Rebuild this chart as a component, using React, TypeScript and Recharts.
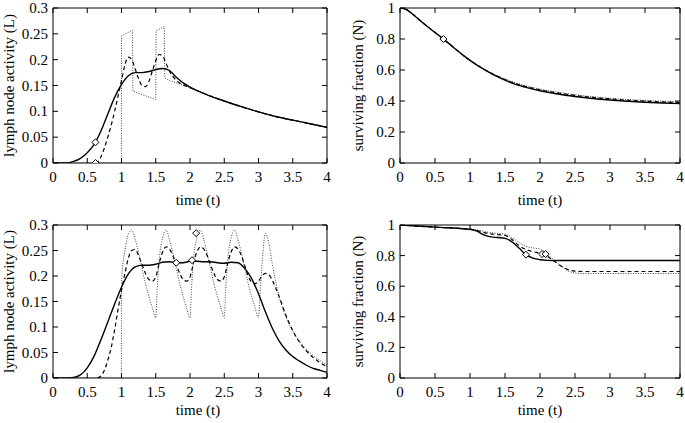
import React from 'react';
import { ComposedChart, Line, Scatter, XAxis, YAxis, ReferenceLine } from 'recharts';

type Pt = [number, number];

const TIME_TICKS = [0, 0.5, 1, 1.5, 2, 2.5, 3, 3.5, 4];
const L_TICKS = [0, 0.05, 0.1, 0.15, 0.2, 0.25, 0.3];
const N_TICKS = [0, 0.2, 0.4, 0.6, 0.8, 1];

// top left: lymph node activity, single dose
const L1_SOLID: Pt[] = [
  [0, 0], [0.2, 0], [0.3, 0.003], [0.4, 0.009], [0.5, 0.02], [0.6, 0.036], [0.7, 0.062],
  [0.8, 0.095], [0.9, 0.127], [1.0, 0.152], [1.1, 0.169], [1.2, 0.175], [1.3, 0.175],
  [1.4, 0.177], [1.5, 0.181], [1.6, 0.183], [1.7, 0.179], [1.8, 0.166], [1.9, 0.155],
  [2.0, 0.147], [2.25, 0.132], [2.5, 0.12], [2.75, 0.109], [3.0, 0.099], [3.25, 0.09],
  [3.5, 0.083], [3.75, 0.076], [4.0, 0.069],
];
const L1_DASHED: Pt[] = [
  [0.62, 0], [0.66, 0.003], [0.7, 0.012], [0.8, 0.05], [0.9, 0.1], [0.95, 0.13], [1.0, 0.16],
  [1.05, 0.19], [1.1, 0.205], [1.15, 0.2], [1.2, 0.182], [1.25, 0.163], [1.3, 0.15],
  [1.35, 0.148], [1.4, 0.158], [1.45, 0.178], [1.5, 0.198], [1.55, 0.21], [1.6, 0.207],
  [1.65, 0.193], [1.7, 0.178], [1.8, 0.16], [1.9, 0.151], [2.0, 0.146], [2.25, 0.132],
  [2.5, 0.12], [2.75, 0.109], [3.0, 0.099], [3.25, 0.09], [3.5, 0.083], [3.75, 0.076], [4.0, 0.069],
];
const L1_DOTTED: Pt[] = [
  [0, 0], [0.999, 0], [1.0, 0.246], [1.16, 0.257], [1.166, 0.139], [1.5, 0.123], [1.506, 0.256],
  [1.625, 0.264], [1.631, 0.165], [1.7, 0.16], [1.8, 0.155], [1.9, 0.15], [2.0, 0.146],
  [2.25, 0.132], [2.5, 0.12], [2.75, 0.109], [3.0, 0.099], [3.25, 0.09], [3.5, 0.083],
  [3.75, 0.076], [4.0, 0.069],
];
const L1_MARKS: Pt[] = [[0.62, 0.04], [0.62, 0]];

// top right: surviving fraction, single dose
const N1_SOLID: Pt[] = [
  [0, 1], [0.05, 0.997], [0.1, 0.988], [0.2, 0.953], [0.3, 0.914], [0.4, 0.877], [0.5, 0.842],
  [0.6, 0.807], [0.7, 0.77], [0.8, 0.732], [0.9, 0.696], [1.0, 0.662], [1.1, 0.632],
  [1.2, 0.604], [1.3, 0.578], [1.4, 0.555], [1.5, 0.534], [1.6, 0.515], [1.8, 0.488],
  [2.0, 0.466], [2.25, 0.445], [2.5, 0.429], [2.75, 0.416], [3.0, 0.406], [3.25, 0.398],
  [3.5, 0.392], [3.75, 0.387], [4.0, 0.383],
];
const N1_DASHED: Pt[] = [
  [0, 1], [0.05, 0.997], [0.1, 0.988], [0.2, 0.953], [0.3, 0.914], [0.4, 0.877], [0.5, 0.842],
  [0.6, 0.807], [0.7, 0.77], [0.8, 0.732], [0.9, 0.696], [1.0, 0.662], [1.1, 0.632],
  [1.2, 0.605], [1.3, 0.58], [1.4, 0.558], [1.5, 0.538], [1.6, 0.52], [1.8, 0.493],
  [2.0, 0.472], [2.25, 0.452], [2.5, 0.436], [2.75, 0.423], [3.0, 0.413], [3.25, 0.405],
  [3.5, 0.399], [3.75, 0.394], [4.0, 0.39],
];
const N1_DOTTED: Pt[] = [
  [0, 1], [0.05, 0.997], [0.1, 0.988], [0.2, 0.953], [0.3, 0.914], [0.4, 0.877], [0.5, 0.842],
  [0.6, 0.807], [0.7, 0.77], [0.8, 0.732], [0.9, 0.696], [1.0, 0.662], [1.1, 0.633],
  [1.2, 0.606], [1.3, 0.582], [1.4, 0.561], [1.5, 0.542], [1.6, 0.525], [1.8, 0.498],
  [2.0, 0.477], [2.25, 0.457], [2.5, 0.441], [2.75, 0.428], [3.0, 0.418], [3.25, 0.41],
  [3.5, 0.404], [3.75, 0.399], [4.0, 0.395],
];
const N1_MARKS: Pt[] = [[0.62, 0.8]];

// bottom left: lymph node activity, repeated doses
const L2_SOLID: Pt[] = [
  [0, 0], [0.25, 0], [0.3, 0.001], [0.4, 0.006], [0.5, 0.02], [0.6, 0.043], [0.7, 0.075],
  [0.8, 0.11], [0.9, 0.145], [1.0, 0.178], [1.1, 0.204], [1.2, 0.218], [1.3, 0.221],
  [1.4, 0.221], [1.5, 0.223], [1.6, 0.227], [1.7, 0.228], [1.8, 0.226], [1.9, 0.226],
  [2.0, 0.229], [2.1, 0.229], [2.2, 0.228], [2.3, 0.228], [2.4, 0.226], [2.5, 0.225],
  [2.6, 0.227], [2.7, 0.226], [2.8, 0.215], [2.9, 0.195], [3.0, 0.165], [3.1, 0.13],
  [3.2, 0.098], [3.3, 0.073], [3.4, 0.055], [3.5, 0.042], [3.6, 0.033], [3.7, 0.025],
  [3.8, 0.019], [3.9, 0.015], [4.0, 0.011],
];
const L2_DASHED: Pt[] = [
  [0.65, 0], [0.7, 0.004], [0.75, 0.015], [0.8, 0.035], [0.85, 0.06], [0.9, 0.095],
  [0.95, 0.135], [1.0, 0.172], [1.05, 0.205], [1.1, 0.235], [1.15, 0.25], [1.2, 0.252],
  [1.25, 0.24], [1.3, 0.222], [1.35, 0.205], [1.4, 0.193], [1.45, 0.19], [1.5, 0.198],
  [1.55, 0.225], [1.6, 0.247], [1.65, 0.257], [1.7, 0.253], [1.75, 0.24], [1.8, 0.222],
  [1.85, 0.205], [1.9, 0.193], [1.95, 0.19], [2.0, 0.198], [2.05, 0.225], [2.1, 0.247],
  [2.15, 0.257], [2.2, 0.253], [2.25, 0.24], [2.3, 0.222], [2.35, 0.205], [2.4, 0.193],
  [2.45, 0.19], [2.5, 0.198], [2.55, 0.225], [2.6, 0.247], [2.65, 0.257], [2.7, 0.253],
  [2.75, 0.24], [2.8, 0.22], [2.85, 0.2], [2.9, 0.188], [2.95, 0.185], [3.0, 0.19],
  [3.05, 0.2], [3.1, 0.205], [3.15, 0.203], [3.2, 0.192], [3.3, 0.16], [3.4, 0.123],
  [3.5, 0.093], [3.6, 0.07], [3.7, 0.053], [3.8, 0.04], [3.9, 0.03], [4.0, 0.022],
];
const L2_DOTTED: Pt[] = [
  [0, 0], [0.998, 0], [1.0, 0.19], [1.05, 0.25], [1.1, 0.282], [1.15, 0.29], [1.2, 0.272],
  [1.25, 0.245], [1.3, 0.215], [1.35, 0.185], [1.4, 0.16], [1.45, 0.138], [1.5, 0.118],
  [1.52, 0.17], [1.55, 0.23], [1.6, 0.275], [1.65, 0.29], [1.7, 0.272], [1.75, 0.245],
  [1.8, 0.215], [1.85, 0.185], [1.9, 0.16], [1.95, 0.138], [2.0, 0.118], [2.02, 0.17],
  [2.05, 0.23], [2.1, 0.275], [2.15, 0.29], [2.2, 0.272], [2.25, 0.245], [2.3, 0.215],
  [2.35, 0.185], [2.4, 0.16], [2.45, 0.138], [2.5, 0.118], [2.52, 0.17], [2.55, 0.23],
  [2.6, 0.275], [2.65, 0.29], [2.7, 0.272], [2.75, 0.245], [2.8, 0.215], [2.85, 0.185],
  [2.9, 0.16], [2.95, 0.138], [3.0, 0.118], [3.02, 0.16], [3.05, 0.22], [3.1, 0.283],
  [3.15, 0.265], [3.2, 0.225], [3.3, 0.16], [3.4, 0.12], [3.5, 0.092], [3.6, 0.072],
  [3.7, 0.056], [3.8, 0.044], [3.9, 0.034], [4.0, 0.026],
];
const L2_MARKS: Pt[] = [[1.8, 0.226], [2.03, 0.231], [2.09, 0.284]];

// bottom right: surviving fraction, repeated doses
const N2_SOLID: Pt[] = [
  [0, 1], [0.5, 0.986], [1.0, 0.972], [1.1, 0.96], [1.2, 0.935], [1.3, 0.922], [1.4, 0.918],
  [1.5, 0.913], [1.6, 0.89], [1.7, 0.85], [1.8, 0.806], [1.9, 0.783], [2.0, 0.773],
  [2.1, 0.769], [2.2, 0.768], [3.0, 0.768], [4.0, 0.768],
];
const N2_DASHED: Pt[] = [
  [0, 1], [0.5, 0.986], [1.0, 0.972], [1.1, 0.965], [1.2, 0.95], [1.3, 0.942], [1.4, 0.937],
  [1.5, 0.932], [1.6, 0.905], [1.7, 0.865], [1.8, 0.84], [1.9, 0.826], [2.0, 0.815],
  [2.05, 0.808], [2.1, 0.797], [2.2, 0.765], [2.3, 0.732], [2.4, 0.708], [2.5, 0.698],
  [2.6, 0.696], [3.0, 0.696], [4.0, 0.696],
];
const N2_DOTTED: Pt[] = [
  [0, 1], [0.5, 0.986], [1.0, 0.972], [1.1, 0.968], [1.2, 0.958], [1.3, 0.95], [1.4, 0.945],
  [1.5, 0.94], [1.6, 0.918], [1.7, 0.885], [1.8, 0.86], [1.9, 0.85], [2.0, 0.843],
  [2.05, 0.83], [2.1, 0.81], [2.2, 0.77], [2.3, 0.732], [2.4, 0.7], [2.5, 0.686],
  [2.6, 0.683], [3.0, 0.683], [4.0, 0.683],
];
const N2_MARKS: Pt[] = [[1.8, 0.806], [2.03, 0.81], [2.08, 0.81]];

const FONT = '"Liberation Serif", "Times New Roman", Times, serif';
const rows = (pts: Pt[]) => pts.map(([t, y]) => ({ t, y }));

const Diamond = (props: any) => {
  const { cx, cy } = props;
  const r = 3.5;
  return (
    <polygon
      points={`${cx},${cy - r} ${cx + r},${cy} ${cx},${cy + r} ${cx - r},${cy}`}
      fill="#fff"
      stroke="#000"
      strokeWidth={1}
    />
  );
};

interface PanelProps {
  left: number;
  top: number;
  width: number;
  height: number;
  marginTop: number;
  marginRight: number;
  yWidth: number;
  xHeight: number;
  yMax: number;
  yTicks: number[];
  yLabel: string;
  yLabelX: number;
  xLabelShift: number;
  xLabelDrop: number;
  solid: Pt[];
  dashed: Pt[];
  dotted: Pt[];
  marks: Pt[];
  dottedCurve: 'linear' | 'monotone';
}

function Panel(p: PanelProps) {
  const plotW = p.width - p.marginRight - p.yWidth;
  const plotH = p.height - p.marginTop - p.xHeight;

  const XTick = ({ x, y, payload }: any) => (
    <g>
      <line x1={x} x2={x} y1={y} y2={y - 5} stroke="#000" />
      <line x1={x} x2={x} y1={y - plotH} y2={y - plotH + 5} stroke="#000" />
      <text x={x} y={y + 19} textAnchor="middle" fontSize={15} fontFamily={FONT} fill="#000">
        {payload.value}
      </text>
    </g>
  );

  const YTick = ({ x, y, payload }: any) => (
    <g>
      <line x1={x} x2={x + 5} y1={y} y2={y} stroke="#000" />
      <line x1={x + plotW} x2={x + plotW - 5} y1={y} y2={y} stroke="#000" />
      <text x={x - 5} y={y + 5} textAnchor="end" fontSize={15} fontFamily={FONT} fill="#000">
        {payload.value}
      </text>
    </g>
  );

  return (
    <div style={{ position: 'absolute', left: p.left, top: p.top }}>
      <ComposedChart
        width={p.width}
        height={p.height}
        margin={{ top: p.marginTop, right: p.marginRight, left: 0, bottom: 0 }}
      >
        <XAxis
          dataKey="t"
          type="number"
          domain={[0, 4]}
          ticks={TIME_TICKS}
          allowDataOverflow
          height={p.xHeight}
          tickSize={0}
          tickMargin={0}
          tickLine={false}
          axisLine={{ stroke: '#000' }}
          tick={XTick}
          interval={0}
          label={{
            content: ({ viewBox }: any) => (
              <text
                x={viewBox.x + viewBox.width / 2 + p.xLabelShift}
                y={viewBox.y + p.xLabelDrop}
                textAnchor="middle"
                fontSize={15}
                fontFamily={FONT}
                fill="#000"
              >
                time (t)
              </text>
            ),
          }}
        />
        <YAxis
          type="number"
          domain={[0, p.yMax]}
          ticks={p.yTicks}
          allowDataOverflow
          width={p.yWidth}
          tickSize={0}
          tickMargin={0}
          tickLine={false}
          axisLine={{ stroke: '#000' }}
          tick={YTick}
          interval={0}
          label={{
            content: ({ viewBox }: any) => {
              const cx = viewBox.x + p.yLabelX;
              const cy = viewBox.y + viewBox.height / 2;
              return (
                <text
                  x={cx}
                  y={cy}
                  dy="0.35em"
                  transform={`rotate(-90, ${cx}, ${cy})`}
                  textAnchor="middle"
                  fontSize={15}
                  fontFamily={FONT}
                  fill="#000"
                >
                  {p.yLabel}
                </text>
              );
            },
          }}
        />
        <ReferenceLine y={p.yMax} stroke="#000" />
        <ReferenceLine x={4} stroke="#000" />
        <Line
          data={rows(p.dotted)}
          dataKey="y"
          type={p.dottedCurve}
          stroke="#444"
          strokeWidth={1}
          strokeDasharray="1 1.5"
          dot={false}
          activeDot={false}
          isAnimationActive={false}
        />
        <Line
          data={rows(p.dashed)}
          dataKey="y"
          type="monotone"
          stroke="#000"
          strokeWidth={1.2}
          strokeDasharray="4 3"
          dot={false}
          activeDot={false}
          isAnimationActive={false}
        />
        <Line
          data={rows(p.solid)}
          dataKey="y"
          type="monotone"
          stroke="#000"
          strokeWidth={1.4}
          dot={false}
          activeDot={false}
          isAnimationActive={false}
        />
        <Scatter data={rows(p.marks)} dataKey="y" shape={Diamond} isAnimationActive={false} />
      </ComposedChart>
    </div>
  );
}

export default function App() {
  return (
    <div
      style={{
        position: 'absolute',
        left: 0,
        top: 0,
        width: 685,
        height: 423,
        background: '#fff',
        overflow: 'hidden',
      }}
    >
      <Panel
        left={0} top={0} width={340} height={210} marginTop={8} marginRight={13}
        yWidth={53} xHeight={47} yMax={0.3} yTicks={L_TICKS}
        yLabel="lymph node activity (L)" yLabelX={9} xLabelShift={8} xLabelDrop={42}
        solid={L1_SOLID} dashed={L1_DASHED} dotted={L1_DOTTED} marks={L1_MARKS}
        dottedCurve="linear"
      />
      <Panel
        left={340} top={0} width={345} height={210} marginTop={8} marginRight={5}
        yWidth={60} xHeight={47} yMax={1} yTicks={N_TICKS}
        yLabel="surviving fraction (N)" yLabelX={18} xLabelShift={0} xLabelDrop={42}
        solid={N1_SOLID} dashed={N1_DASHED} dotted={N1_DOTTED} marks={N1_MARKS}
        dottedCurve="monotone"
      />
      <Panel
        left={0} top={210} width={340} height={213} marginTop={15} marginRight={13}
        yWidth={53} xHeight={45} yMax={0.3} yTicks={L_TICKS}
        yLabel="lymph node activity (L)" yLabelX={9} xLabelShift={8} xLabelDrop={37}
        solid={L2_SOLID} dashed={L2_DASHED} dotted={L2_DOTTED} marks={L2_MARKS}
        dottedCurve="monotone"
      />
      <Panel
        left={340} top={210} width={345} height={213} marginTop={15} marginRight={5}
        yWidth={60} xHeight={45} yMax={1} yTicks={N_TICKS}
        yLabel="surviving fraction (N)" yLabelX={18} xLabelShift={0} xLabelDrop={37}
        solid={N2_SOLID} dashed={N2_DASHED} dotted={N2_DOTTED} marks={N2_MARKS}
        dottedCurve="monotone"
      />
    </div>
  );
}
